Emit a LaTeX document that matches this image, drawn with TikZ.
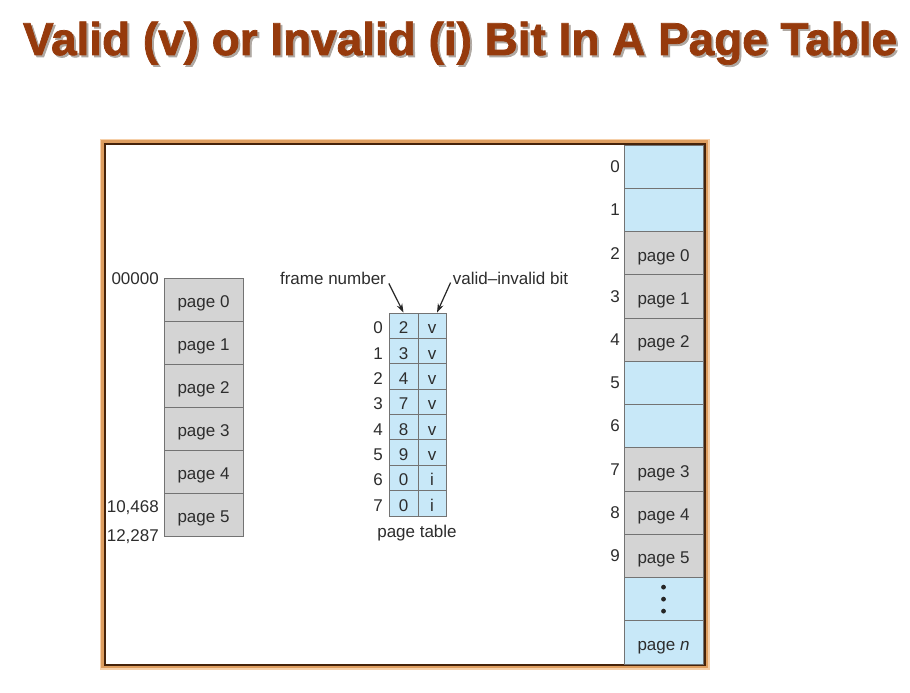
\documentclass[tikz,border=0pt]{standalone}
\usepackage{fontspec}
\setmainfont{Liberation Sans}
\newfontfamily\titlefont{Liberation Sans Bold}[FakeBold=1.6]
\usetikzlibrary{arrows.meta}
\definecolor{titlebrown}{RGB}{150,58,12}
\definecolor{titleshade}{RGB}{175,168,162}
\definecolor{cellblue}{RGB}{200,232,248}
\definecolor{cellgray}{RGB}{212,212,212}
\definecolor{cellline}{RGB}{115,115,115}
\definecolor{frametan}{RGB}{222,158,96}
\definecolor{framedark}{RGB}{70,35,10}
\definecolor{framelight}{RGB}{246,208,170}
\definecolor{txt}{RGB}{45,45,45}
\begin{document}
\begin{tikzpicture}[x=1pt,y=-1pt,
  lbl/.style={font=\fontsize{17}{19}\selectfont, text=txt, inner sep=0pt},
  shifted/.style={text height=16pt, text depth=0pt},
  cellbase/.style={draw=cellline, line width=0.8pt, inner sep=0pt, lbl, shifted},
  memcell/.style={cellbase, minimum width=79pt, minimum height=43.25pt},
  logcell/.style={cellbase, minimum width=79pt, minimum height=43pt, fill=cellgray},
  ptcell/.style={cellbase, minimum height=25.375pt, fill=cellblue},
  ptr/.style={-{Stealth[length=9pt,width=6pt]}, line width=1.2pt, black!85},
  titletext/.style={inner sep=0pt, anchor=base}
]
\useasboundingbox (0,0) rectangle (910,693);
\fill[white] (0,0) rectangle (910,693);

% title
\newcommand{\ttext}{\resizebox{874pt}{\height}{\titlefont\fontsize{46}{46}\selectfont Valid (v) or Invalid (i) Bit In A Page Table}}
\node[titletext, text=titleshade] (titleshadow) at (462,57) {\ttext};
\node[titletext, text=titlebrown] (title) at (460,55) {\ttext};

% frame
\draw[frametan, line width=5pt] (102.5,141.5) rectangle (707,667);
\draw[framelight, line width=1.3pt] (100.6,139.6) rectangle (708.9,668.9);
\draw[framedark, line width=1.5pt] (105,144) rectangle (705,665);

% logical memory
\foreach \i in {0,...,5} {
  \node[logcell] (lm\i) at (203.5,{278+43*(\i+0.5)}) {page \i};
}
\node[lbl, anchor=east] (a0) at (159,279) {00000};
\node[lbl, anchor=east] (a1) at (159,508) {10,468};
\node[lbl, anchor=east] (a2) at (159,537) {12,287};

% page table
\foreach \i/\f/\b in {0/2/v,1/3/v,2/4/v,3/7/v,4/8/v,5/9/v,6/0/i,7/0/i} {
  \node[ptcell, minimum width=29pt] (ptf\i) at (403.5,{313+25.375*(\i+0.5)}) {\f};
  \node[ptcell, minimum width=28pt] (ptv\i) at (432,{313+25.375*(\i+0.5)}) {\b};
  \node[lbl, shifted] (pti\i) at (378,{313+25.375*(\i+0.5)}) {\i};
}
\node[lbl] (ptlabel) at (417,533) {page table};
\node[lbl] (fn) at (333,278) {frame number};
\node[lbl] (vb) at (510.5,278) {valid--invalid bit};
\draw[ptr, shorten <=6pt] (fn.east) -- (ptf0.north);
\draw[ptr, shorten <=5pt] (vb.west) -- ([xshift=5pt]ptv0.north);

% physical memory
\foreach \i/\c/\t in {0/cellblue/,1/cellblue/,2/cellgray/page 0,3/cellgray/page 1,4/cellgray/page 2,5/cellblue/,6/cellblue/,7/cellgray/page 3,8/cellgray/page 4,9/cellgray/page 5} {
  \node[memcell, fill=\c] (pm\i) at (663.5,{145+43.25*(\i+0.5)}) {\t};
  \node[lbl, anchor=east] (pmn\i) at (620,{145+43.25*(\i+0.5)}) {\i};
}
\node[memcell, fill=cellblue] (pm10) at (663.5,{145+43.25*10.5}) {};
\node[memcell, fill=cellblue] (pm11) at (663.5,{145+43.25*11.5}) {page \textit{n}};
\foreach \d in {-12,0,12} {
  \fill[black!85] ([yshift=\d pt]pm10.center) circle (2.4pt);
}
\end{tikzpicture}
\end{document}
